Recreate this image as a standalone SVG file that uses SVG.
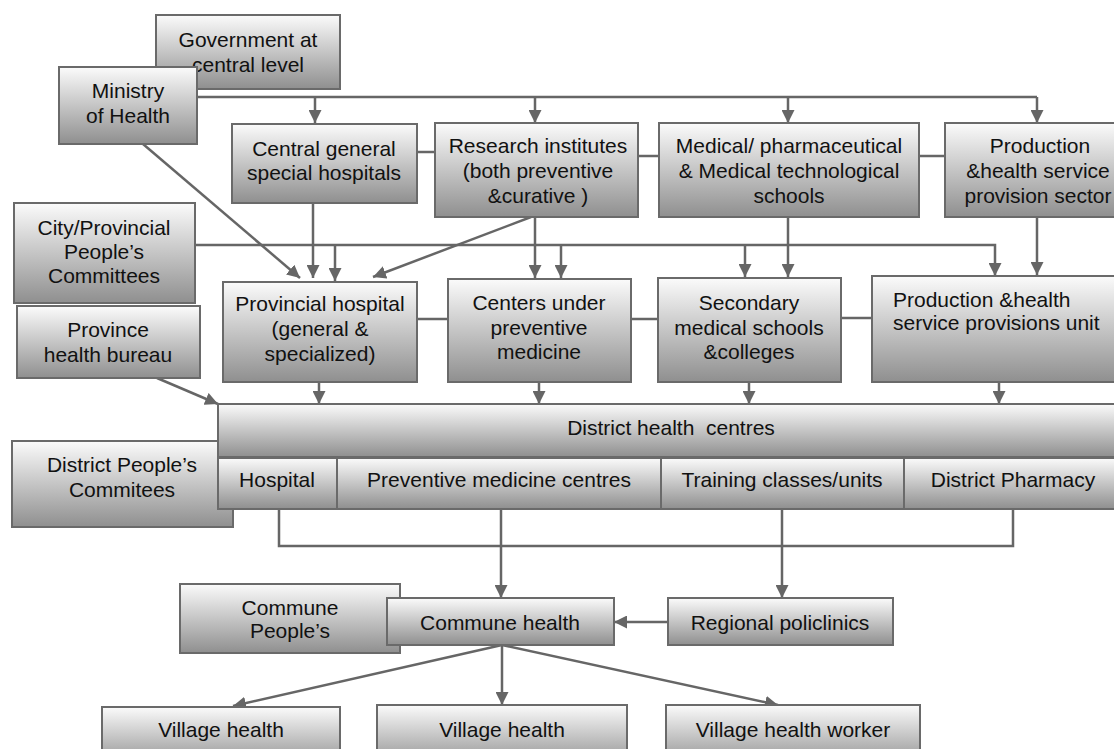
<svg xmlns="http://www.w3.org/2000/svg" width="1114" height="749" viewBox="0 0 1114 749">
  <defs>
    <linearGradient id="boxFill" x1="0" y1="0" x2="0" y2="1">
      <stop offset="0" stop-color="#fbfbfb"/>
      <stop offset="1" stop-color="#8f8f8f"/>
    </linearGradient>
    <marker id="arrow" viewBox="0 0 10 10" refX="10" refY="5" markerWidth="13" markerHeight="13" markerUnits="userSpaceOnUse" orient="auto">
      <path d="M0,0 L10,5 L0,10 z" fill="#666"/>
    </marker>
    <style>
      .box { fill: url(#boxFill); stroke: #6a6a6a; stroke-width: 2; }
      .lbl { font-family: "Liberation Sans", Arial, sans-serif; font-size: 21px; fill: #111; text-anchor: middle; }
      .left { text-anchor: start; }
      .wire { fill: none; stroke: #666; stroke-width: 2.5; }
      .arr { marker-end: url(#arrow); }
    </style>
  </defs>
  <rect width="1114" height="749" fill="#fff"/>

  <!-- connectors -->
  <g id="connectors">
    <path class="wire" d="M197,97 H1037"/>
    <path class="wire arr" d="M315,97 V123"/>
    <path class="wire arr" d="M535,97 V123"/>
    <path class="wire arr" d="M788,97 V123"/>
    <path class="wire arr" d="M1037,97 V123"/>
    <path class="wire" d="M417,152 H435"/>
    <path class="wire" d="M638,156 H659"/>
    <path class="wire" d="M919,156 H945"/>
    <path class="wire arr" d="M313,203 V278"/>
    <path class="wire arr" d="M143,144 L300,278"/>
    <path class="wire arr" d="M531,217 L373,277"/>
    <path class="wire arr" d="M535,217 V278"/>
    <path class="wire arr" d="M788,217 V277"/>
    <path class="wire arr" d="M1037,217 V275"/>
    <path class="wire arr" d="M195,245 H995 V276"/>
    <path class="wire arr" d="M335,245 V281"/>
    <path class="wire arr" d="M561,245 V278"/>
    <path class="wire arr" d="M745,245 V277"/>
    <path class="wire" d="M417,319 H448"/>
    <path class="wire" d="M631,319 H658"/>
    <path class="wire" d="M841,318 H872"/>
    <path class="wire arr" d="M319,382 V404"/>
    <path class="wire arr" d="M539,382 V404"/>
    <path class="wire arr" d="M749,382 V404"/>
    <path class="wire arr" d="M999,382 V404"/>
    <path class="wire arr" d="M157,378 L218,404"/>
    <path class="wire" d="M279,509 V546 H1013 V509"/>
    <path class="wire arr" d="M501,509 V598"/>
    <path class="wire arr" d="M782,509 V598"/>
    <path class="wire arr" d="M668,622 H614"/>
    <path class="wire arr" d="M502,645 L233,706"/>
    <path class="wire arr" d="M502,645 V705"/>
    <path class="wire arr" d="M502,645 L778,705"/>
  </g>

  <!-- central level -->
  <g id="government">
    <rect class="box" x="156" y="15" width="184" height="74"/>
    <text class="lbl" x="248" y="47">Government at</text>
    <text class="lbl" x="248" y="72">central level</text>
  </g>
  <g id="ministry">
    <rect class="box" x="59" y="67" width="138" height="77"/>
    <text class="lbl" x="128" y="98">Ministry</text>
    <text class="lbl" x="128" y="123">of Health</text>
  </g>
  <g id="central-hospitals">
    <rect class="box" x="232" y="124" width="185" height="79"/>
    <text class="lbl" x="324" y="156">Central general</text>
    <text class="lbl" x="324" y="180">special hospitals</text>
  </g>
  <g id="research">
    <rect class="box" x="435" y="123" width="203" height="94"/>
    <text class="lbl" x="538" y="153">Research institutes</text>
    <text class="lbl" x="538" y="178">(both preventive</text>
    <text class="lbl" x="538" y="203">&amp;curative )</text>
  </g>
  <g id="medical-schools">
    <rect class="box" x="659" y="123" width="260" height="94"/>
    <text class="lbl" x="789" y="153">Medical/ pharmaceutical</text>
    <text class="lbl" x="789" y="178">&amp; Medical technological</text>
    <text class="lbl" x="789" y="203">schools</text>
  </g>
  <g id="production-sector">
    <rect class="box" x="945" y="123" width="186" height="94"/>
    <text class="lbl" x="1040" y="153">Production</text>
    <text class="lbl" x="1038" y="178">&amp;health service</text>
    <text class="lbl" x="1038" y="203">provision sector</text>
  </g>

  <!-- provincial level -->
  <g id="city-committees">
    <rect class="box" x="14" y="203" width="181" height="100"/>
    <text class="lbl" x="104" y="235">City/Provincial</text>
    <text class="lbl" x="104" y="259">People’s</text>
    <text class="lbl" x="104" y="283">Committees</text>
  </g>
  <g id="province-bureau">
    <rect class="box" x="17" y="306" width="183" height="72"/>
    <text class="lbl" x="108" y="337">Province</text>
    <text class="lbl" x="108" y="362">health bureau</text>
  </g>
  <g id="provincial-hospital">
    <rect class="box" x="223" y="282" width="194" height="100"/>
    <text class="lbl" x="320" y="311">Provincial hospital</text>
    <text class="lbl" x="320" y="336">(general &amp;</text>
    <text class="lbl" x="320" y="361">specialized)</text>
  </g>
  <g id="preventive-centers">
    <rect class="box" x="448" y="279" width="183" height="103"/>
    <text class="lbl" x="539" y="310">Centers under</text>
    <text class="lbl" x="539" y="335">preventive</text>
    <text class="lbl" x="539" y="359">medicine</text>
  </g>
  <g id="secondary-schools">
    <rect class="box" x="658" y="278" width="183" height="104"/>
    <text class="lbl" x="749" y="310">Secondary</text>
    <text class="lbl" x="749" y="335">medical schools</text>
    <text class="lbl" x="749" y="359">&amp;colleges</text>
  </g>
  <g id="production-unit">
    <rect class="box" x="872" y="276" width="254" height="106"/>
    <text class="lbl left" x="893" y="307">Production &amp;health</text>
    <text class="lbl left" x="893" y="330">service provisions unit</text>
  </g>

  <!-- district level -->
  <g id="district-committees">
    <rect class="box" x="12" y="441" width="221" height="86"/>
    <text class="lbl" x="122" y="472">District People’s</text>
    <text class="lbl" x="122" y="497">Commitees</text>
  </g>
  <g id="district-centres">
    <rect class="box" x="218" y="404" width="908" height="53"/>
    <text class="lbl" x="671" y="435" xml:space="preserve">District health  centres</text>
  </g>
  <g id="district-hospital">
    <rect class="box" x="218" y="458" width="119" height="51"/>
    <text class="lbl" x="277" y="487">Hospital</text>
  </g>
  <g id="district-preventive">
    <rect class="box" x="337" y="458" width="324" height="51"/>
    <text class="lbl" x="499" y="487">Preventive medicine centres</text>
  </g>
  <g id="district-training">
    <rect class="box" x="661" y="458" width="243" height="51"/>
    <text class="lbl" x="782" y="487">Training classes/units</text>
  </g>
  <g id="district-pharmacy">
    <rect class="box" x="904" y="458" width="222" height="51"/>
    <text class="lbl" x="1013" y="487">District Pharmacy</text>
  </g>

  <!-- commune level -->
  <g id="commune-committees">
    <rect class="box" x="180" y="584" width="220" height="69"/>
    <text class="lbl" x="290" y="615">Commune</text>
    <text class="lbl" x="290" y="638">People’s</text>
  </g>
  <g id="commune-health">
    <rect class="box" x="387" y="598" width="227" height="47"/>
    <text class="lbl" x="500" y="630">Commune health</text>
  </g>
  <g id="regional-policlinics">
    <rect class="box" x="668" y="598" width="225" height="47"/>
    <text class="lbl" x="780" y="630">Regional policlinics</text>
  </g>

  <!-- village level -->
  <g id="village-health-1">
    <rect class="box" x="102" y="707" width="238" height="60"/>
    <text class="lbl" x="221" y="737">Village health</text>
  </g>
  <g id="village-health-2">
    <rect class="box" x="377" y="705" width="250" height="62"/>
    <text class="lbl" x="502" y="737">Village health</text>
  </g>
  <g id="village-worker">
    <rect class="box" x="666" y="705" width="254" height="62"/>
    <text class="lbl" x="793" y="737">Village health worker</text>
  </g>
</svg>
